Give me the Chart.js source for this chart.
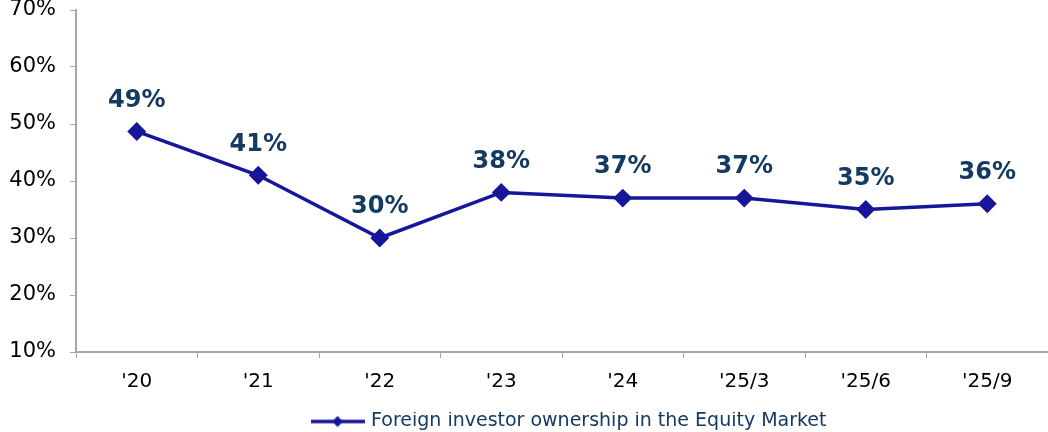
<!DOCTYPE html>
<html>
<head>
<meta charset="utf-8">
<script src="https://cdn.jsdelivr.net/npm/chart.js@4.4.1/dist/chart.umd.min.js"></script>
<style>
  html, body { margin: 0; padding: 0; background: #ffffff; }
  #wrap { width: 1048px; height: 432px; position: relative; }
</style>
</head>
<body>
<div id="wrap"><canvas id="ownershipChart"></canvas></div>
<script>
// datos
const periodos = ["'20", "'21", "'22", "'23", "'24", "'25/3", "'25/6", "'25/9"];
const participacion = [48.7, 41.0, 30.0, 38.0, 37.0, 37.0, 35.0, 36.0];
const etiquetas = ['49%', '41%', '30%', '38%', '37%', '37%', '35%', '36%'];
const serieNombre = 'Foreign investor ownership in the Equity Market';

const lineColor = '#16169a';
const labelColor = '#143a62';
const axisColor = '#a6a6a6';

Chart.defaults.font.family = '"DejaVu Sans", Verdana, sans-serif';
Chart.defaults.color = '#000000';

// icono de leyenda: linea con rombo
const legendIcon = document.createElement('canvas');
legendIcon.width = 54;
legendIcon.height = 14;
(function () {
    const c = legendIcon.getContext('2d');
    c.strokeStyle = lineColor;
    c.lineWidth = 3.5;
    c.beginPath();
    c.moveTo(0, 7);
    c.lineTo(54, 7);
    c.stroke();
    c.fillStyle = lineColor;
    c.beginPath();
    c.moveTo(27, 1.5);
    c.lineTo(32.5, 7);
    c.lineTo(27, 12.5);
    c.lineTo(21.5, 7);
    c.closePath();
    c.fill();
})();

// etiquetas de valor sobre cada punto
const valueLabels = {
    id: 'valueLabels',
    afterDatasetsDraw(chart) {
        const ctx = chart.ctx;
        const meta = chart.getDatasetMeta(0);
        ctx.save();
        ctx.font = 'bold 24px "DejaVu Sans", Verdana, sans-serif';
        ctx.fillStyle = labelColor;
        ctx.textAlign = 'center';
        ctx.textBaseline = 'middle';
        meta.data.forEach((pt, i) => {
            ctx.fillText(etiquetas[i], pt.x, pt.y - 31);
        });
        ctx.restore();
    }
};

// leyenda mas baja y corrida a la derecha, como en el original
const ajusteLeyenda = {
    id: 'ajusteLeyenda',
    beforeInit(chart) {
        const legend = chart.legend;
        if (!legend) return;
        const fitOriginal = legend.fit;
        legend.fit = function () {
            fitOriginal.call(this);
            this.height = 20;
        };
        const drawOriginal = legend.draw;
        legend.draw = function () {
            const ctx = this.ctx;
            ctx.save();
            ctx.translate(46, 0);
            drawOriginal.call(this);
            ctx.restore();
        };
    }
};

new Chart('ownershipChart', {
    type: 'line',
    data: {
        labels: periodos,
        datasets: [{
            label: serieNombre,
            data: participacion,
            borderColor: lineColor,
            backgroundColor: lineColor,
            borderWidth: 3.5,
            tension: 0,
            pointStyle: 'rectRot',
            pointRadius: 7,
            pointHoverRadius: 7,
            pointBackgroundColor: lineColor,
            pointBorderColor: lineColor,
        }]
    },
    options: {
        responsive: true,
        maintainAspectRatio: false,
        animation: false,
        layout: { autoPadding: false, padding: { top: 0, right: 0, left: 0, bottom: 0 } },
        plugins: {
            tooltip: { enabled: false },
            legend: {
                display: true,
                position: 'bottom',
                labels: {
                    usePointStyle: true,
                    pointStyleWidth: 48,
                    boxWidth: 48,
                    boxHeight: 14,
                    padding: 0,
                    color: labelColor,
                    font: { size: 19 },
                    generateLabels: chart => [{
                        text: serieNombre,
                        pointStyle: legendIcon,
                        fontColor: labelColor,
                        datasetIndex: 0,
                        hidden: false,
                        lineWidth: 0,
                    }]
                }
            }
        },
        scales: {
            x: {
                offset: true,
                afterFit: scale => {
                    scale.height = 60;
                    scale.paddingLeft = 0;
                    scale.paddingRight = 0;
                },
                grid: {
                    offset: true,
                    drawOnChartArea: false,
                    drawTicks: true,
                    tickLength: 6,
                    color: axisColor,
                },
                border: { color: axisColor, width: 2 },
                ticks: { font: { size: 20 }, color: '#000000', padding: 12 }
            },
            y: {
                min: 10,
                max: 70,
                afterFit: scale => {
                    scale.width = 76;
                    scale.paddingTop = 10;
                    scale.paddingBottom = 0;
                },
                grid: {
                    drawOnChartArea: false,
                    tickLength: 6,
                    color: axisColor,
                },
                border: { color: axisColor, width: 2 },
                ticks: {
                    stepSize: 10,
                    font: { size: 21 },
                    color: '#000000',
                    padding: 14,
                    callback: v => v + '%'
                }
            }
        }
    },
    plugins: [valueLabels, ajusteLeyenda]
});
</script>
</body>
</html>
